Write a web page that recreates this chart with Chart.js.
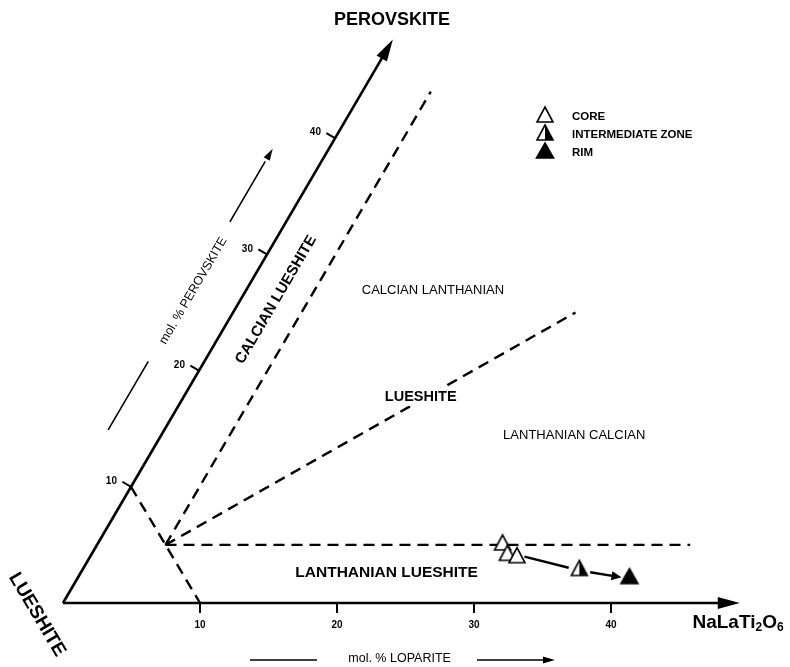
<!DOCTYPE html>
<html>
<head>
<meta charset="utf-8">
<script src="https://cdn.jsdelivr.net/npm/chart.js@4.4.1/dist/chart.umd.min.js"></script>
<style>
  html, body { margin: 0; padding: 0; background: #fff; }
  #wrap { width: 790px; height: 667px; position: relative; }
</style>
</head>
<body>
<div id="wrap"><canvas id="diagram" width="790" height="667"></canvas></div>
<script>
// Compositions in mol. %: loparite (NaLaTi2O6) and perovskite (CaTiO3); lueshite makes up the rest.
const seriesNames = ['CORE', 'INTERMEDIATE ZONE', 'RIM'];
const coreLoparite = [29.6, 30.4, 31.2];
const corePerovskite = [5.0, 4.1, 3.9];
const intermediateLoparite = [36.3];
const intermediatePerovskite = [2.8];
const rimLoparite = [40.3];
const rimPerovskite = [2.1];

// Axis tick values and axis lengths (mol. %)
const loparriteTicks = [10, 20, 30, 40];
const perovskiteTicks = [10, 20, 30, 40];
const loparriteAxisEnd = 49.4;
const perovskiteAxisEnd = 48.5;

// Field boundaries as [loparite, perovskite] pairs
const boundaryTenPercent = [[0, 10], [10, 0]];
const boundaryLanthanian = [[5, 5], [43.3, 5]];
const boundaryCalcian = [[5, 5], [5, 44]];
const boundaryEqual = [[5, 5], [25, 25]];

// Oblique (60 degree) perovskite axis: horizontal shift per unit of perovskite
const SHEAR = 0.4964;
const tern = (L, P) => ({ x: L + SHEAR * P, y: P });
const pairs = (Ls, Ps) => Ls.map((L, i) => tern(L, Ps[i]));
const pathOf = (pts) => pts.map(([L, P]) => tern(L, P));

// Triangle markers: open, half filled, solid
function triangleMarker(kind, w, h) {
  const size = 26;
  const c = document.createElement('canvas');
  c.width = size; c.height = size;
  const g = c.getContext('2d');
  const cx = size / 2, cy = size / 2;
  const top = cy - h * 2 / 3, base = cy + h / 3;
  const left = cx - w / 2, right = cx + w / 2;
  const outline = () => { g.beginPath(); g.moveTo(cx, top); g.lineTo(right, base); g.lineTo(left, base); g.closePath(); };
  outline();
  g.fillStyle = kind === 'solid' ? '#000' : '#fff';
  g.fill();
  if (kind === 'half') {
    g.beginPath(); g.moveTo(cx, top); g.lineTo(right, base); g.lineTo(cx, base); g.closePath();
    g.fillStyle = '#000'; g.fill();
  }
  outline();
  g.lineWidth = 1.6; g.lineJoin = 'miter'; g.strokeStyle = '#000';
  g.stroke();
  return c;
}
const markerOpen = triangleMarker('open', 16, 15);
const markerHalf = triangleMarker('half', 16, 15);
const markerSolid = triangleMarker('solid', 17, 15);

const pointSet = (label, data, style) => ({
  label, data, pointStyle: style, showLine: false,
  pointRadius: 8, pointHoverRadius: 8, borderColor: '#000', backgroundColor: '#000'
});
const lineSet = (label, data, dashed, width) => ({
  label, data, showLine: true, pointRadius: 0, pointHoverRadius: 0,
  borderColor: '#000', borderWidth: width, borderDash: dashed ? [11, 7] : [],
  borderCapStyle: 'butt', fill: false, tension: 0
});

const datasets = [
  pointSet(seriesNames[0], pairs(coreLoparite, corePerovskite), markerOpen),
  pointSet(seriesNames[1], pairs(intermediateLoparite, intermediatePerovskite), markerHalf),
  pointSet(seriesNames[2], pairs(rimLoparite, rimPerovskite), markerSolid),
  lineSet('loparite axis', [tern(0, 0), tern(loparriteAxisEnd - 1, 0)], false, 2.6),
  lineSet('perovskite axis', [tern(0, 0), tern(0, perovskiteAxisEnd - 1)], false, 2.6),
  lineSet('10 %', pathOf(boundaryTenPercent), true, 2.4),
  lineSet('lanthanian', pathOf(boundaryLanthanian), true, 2.4),
  lineSet('calcian', pathOf(boundaryCalcian), true, 2.4),
  lineSet('equal', pathOf(boundaryEqual), true, 2.4)
];

function arrowHead(ctx, from, to, len, half) {
  const a = Math.atan2(to.y - from.y, to.x - from.x);
  ctx.beginPath();
  ctx.moveTo(to.x, to.y);
  ctx.lineTo(to.x - len * Math.cos(a) + half * Math.sin(a), to.y - len * Math.sin(a) - half * Math.cos(a));
  ctx.lineTo(to.x - len * Math.cos(a) - half * Math.sin(a), to.y - len * Math.sin(a) + half * Math.cos(a));
  ctx.closePath();
  ctx.fill();
}
function segment(ctx, a, b, width) {
  ctx.lineWidth = width;
  ctx.beginPath(); ctx.moveTo(a.x, a.y); ctx.lineTo(b.x, b.y); ctx.stroke();
}
function label(ctx, str, p, font, angle = 0, align = 'center', knockout = false) {
  ctx.save();
  ctx.translate(p.x, p.y);
  ctx.rotate(angle);
  ctx.font = font;
  ctx.textAlign = align;
  ctx.textBaseline = 'middle';
  if (knockout) {
    const w = ctx.measureText(str).width;
    ctx.fillStyle = '#fff';
    ctx.fillRect(-w / 2 - 3, -9, w + 6, 18);
    ctx.fillStyle = '#000';
  }
  ctx.fillText(str, 0, 0);
  ctx.restore();
}

const FONT = '"Liberation Sans", Arial, sans-serif';

const ternaryDecor = {
  id: 'ternaryDecor',
  afterDatasetsDraw(chart) {
    const { ctx, scales } = chart;
    const px = (L, P) => {
      const v = tern(L, P);
      return { x: scales.x.getPixelForValue(v.x), y: scales.y.getPixelForValue(v.y) };
    };
    const move = (p, d, dist) => ({ x: p.x + d.x * dist, y: p.y + d.y * dist });
    const unit = (a, b) => { const dx = b.x - a.x, dy = b.y - a.y, n = Math.hypot(dx, dy); return { x: dx / n, y: dy / n }; };

    ctx.save();
    ctx.fillStyle = '#000';
    ctx.strokeStyle = '#000';
    ctx.lineCap = 'butt';

    const origin = px(0, 0);
    const perDir = unit(origin, px(0, 10));
    const perAngle = Math.atan2(perDir.y, perDir.x);
    const sideAngle = Math.atan2(px(10, 0).y - px(0, 10).y, px(10, 0).x - px(0, 10).x);

    // Axis arrowheads
    arrowHead(ctx, origin, px(loparriteAxisEnd, 0), 22, 6);
    arrowHead(ctx, origin, px(0, perovskiteAxisEnd), 22, 6);

    // Loparite ticks
    loparriteTicks.forEach(v => {
      const p = px(v, 0);
      segment(ctx, p, { x: p.x, y: p.y + 10 }, 2);
      label(ctx, String(v), { x: p.x, y: p.y + 22 }, 'bold 10px ' + FONT);
    });
    // Perovskite ticks, normal to the axis
    const normal = { x: perDir.y, y: -perDir.x };
    perovskiteTicks.forEach(v => {
      const p = px(0, v);
      const end = move(p, normal, 10);
      segment(ctx, p, end, 2);
      label(ctx, String(v), { x: end.x - 11, y: end.y - 0.5 }, 'bold 10px ' + FONT);
    });

    // Apex and axis titles
    label(ctx, 'PEROVSKITE', px(-0.9, 50.2), 'bold 18px ' + FONT);
    label(ctx, 'LUESHITE', px(-1.4, -1.0), 'bold 19px ' + FONT, sideAngle);
    const nl = px(46.8, -1.72);
    ctx.save();
    ctx.textBaseline = 'middle'; ctx.textAlign = 'left';
    let x = nl.x;
    const part = (s, f, dy) => { ctx.font = f; ctx.fillText(s, x, nl.y + dy); x += ctx.measureText(s).width; };
    part('NaLaTi', 'bold 19px ' + FONT, 0);
    part('2', 'bold 12px ' + FONT, 5);
    part('O', 'bold 19px ' + FONT, 0);
    part('6', 'bold 12px ' + FONT, 5);
    ctx.restore();

    // Field names
    label(ctx, 'CALCIAN LUESHITE', px(2.6, 26.1), 'bold 15px ' + FONT, perAngle);
    label(ctx, 'CALCIAN LANTHANIAN', px(13.66, 26.88), '13px ' + FONT);
    label(ctx, 'LUESHITE', px(17.3, 17.75), 'bold 14.5px ' + FONT, 0, 'center', true);
    label(ctx, 'LANTHANIAN CALCIAN', px(30.17, 14.4), '13px ' + FONT);
    label(ctx, 'LANTHANIAN LUESHITE', px(22.34, 2.58), 'bold 15.5px ' + FONT);

    // Direction captions with guide arrows
    label(ctx, 'mol. % PEROVSKITE', px(-3.83, 26.87), '12.5px ' + FONT, perAngle);
    segment(ctx, px(-4.1, 14.9), px(-4.1, 20.8), 1.6);
    segment(ctx, px(-4.1, 32.8), px(-4.1, 38.0), 1.6);
    arrowHead(ctx, px(-4.1, 32.8), px(-4.1, 39.1), 12, 3.5);

    label(ctx, 'mol. % LOPARITE', px(26.95, -4.8), '12.5px ' + FONT);
    segment(ctx, px(16.08, -4.9), px(20.97, -4.9), 1.6);
    segment(ctx, px(32.65, -4.9), px(37.5, -4.9), 1.6);
    arrowHead(ctx, px(32.65, -4.9), px(38.34, -4.9), 12, 3.5);

    // Zoning trend: core -> intermediate zone -> rim
    const metaCore = chart.getDatasetMeta(0).data;
    const coreMean = {
      x: metaCore.reduce((s, e) => s + e.x, 0) / metaCore.length,
      y: metaCore.reduce((s, e) => s + e.y, 0) / metaCore.length
    };
    const mid = chart.getDatasetMeta(1).data[0];
    const rim = chart.getDatasetMeta(2).data[0];
    const d1 = unit(coreMean, mid);
    segment(ctx, move(coreMean, d1, 16), move(mid, d1, -11), 2.4);
    const d2 = unit(mid, rim);
    const tip = move(rim, d2, -8);
    segment(ctx, move(mid, d2, 11), move(tip, d2, -6), 2.4);
    arrowHead(ctx, move(mid, d2, 11), tip, 10, 4.5);

    // Legend
    const markers = [0, 1, 2].map(i => chart.data.datasets[i]);
    markers.forEach((ds, i) => {
      const cy = 117 + i * 18;
      ctx.drawImage(ds.pointStyle, 545 - ds.pointStyle.width / 2, cy - ds.pointStyle.height / 2);
      label(ctx, ds.label, { x: 572, y: cy }, 'bold 11.5px ' + FONT, 0, 'left');
    });

    ctx.restore();
  }
};

new Chart(document.getElementById('diagram'), {
  type: 'scatter',
  data: { datasets },
  options: {
    responsive: false,
    animation: false,
    events: [],
    layout: { padding: 0, autoPadding: false },
    plugins: { legend: { display: false }, tooltip: { enabled: false } },
    scales: {
      x: { type: 'linear', display: false, min: -63 / 13.7, max: (790 - 63) / 13.7 },
      y: { type: 'linear', display: false, min: (603 - 667) / 11.62, max: 603 / 11.62 }
    }
  },
  plugins: [ternaryDecor]
});
</script>
</body>
</html>
